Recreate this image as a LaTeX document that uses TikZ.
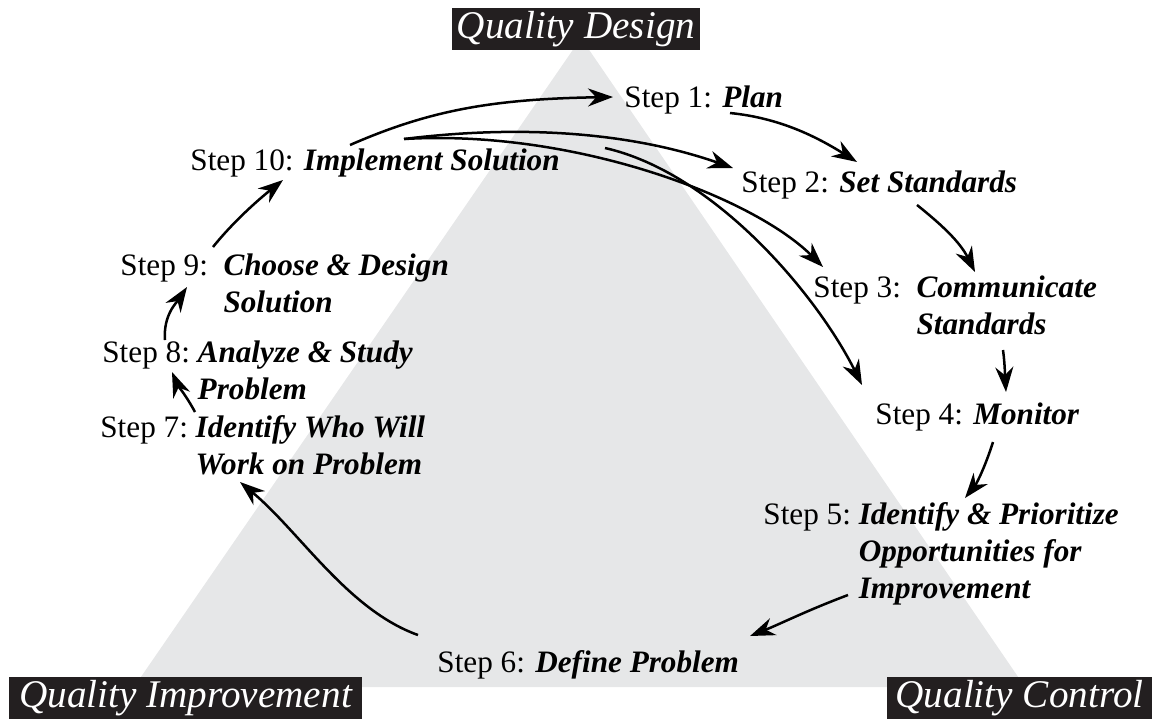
\documentclass[tikz,border=0pt]{standalone}
\usepackage{fontspec}
\setmainfont{Liberation Serif}
\usepackage{tikz}
\usetikzlibrary{arrows.meta}
\definecolor{pyramid}{RGB}{230,231,232}
\definecolor{labelbg}{RGB}{35,31,32}
\tikzstyle{stepnode} = [anchor=base west, inner sep=0pt, font=\fontsize{15.6}{18.5}\selectfont]
\tikzstyle{corner} = [fill=labelbg, text=white, inner sep=0pt, minimum height=21pt, font=\fontsize{19.6}{20}\selectfont\itshape]
\tikzstyle{arrow} = [line width=1.25pt,-{Stealth[length=12.5pt,width=9pt]}]
\newcommand{\stp}[1]{\textbf{\textit{#1}}}

\begin{document}
\begin{tikzpicture}
		[x=0.5pt, y=-0.5pt]
		\useasboundingbox (0,0) rectangle (1159,719);
		% grey pyramid behind the cycle
		\fill[pyramid] (581,38) -- (134,687) -- (1025,687) -- cycle;
		
		% corner labels
		\node[corner, minimum width=124pt] (design) at (576,29) {Quality Design};
		\node[corner, minimum width=176.5pt] (improve) at (185.5,698) {Quality Improvement};
		\node[corner, minimum width=132.5pt] (control) at (1019.5,698) {Quality Control};
		
		% the ten steps
		\node[stepnode] (s1) at (624,107) {Step 1: \stp{Plan}};
		\node[stepnode] (s2) at (741,192) {Step 2: \stp{Set Standards}};
		\node[stepnode] (s3) at (813,297) {\begin{tabular}[t]{@{}l@{\ \ }l@{}}Step 3: & \stp{Communicate}\\ & \stp{Standards}\end{tabular}};
		\node[stepnode] (s4) at (875,424) {Step 4: \stp{Monitor}};
		\node[stepnode] (s5) at (763,524) {\begin{tabular}[t]{@{}l@{\ }l@{}}Step 5: & \stp{Identify \& Prioritize}\\ & \stp{Opportunities for}\\ & \stp{Improvement}\end{tabular}};
		\node[stepnode] (s6) at (437,672) {Step 6: \stp{Define Problem}};
		\node[stepnode] (s7) at (100,437) {\begin{tabular}[t]{@{}l@{\ }l@{}}Step 7: & \stp{Identify Who Will}\\ & \stp{Work on Problem}\end{tabular}};
		\node[stepnode] (s8) at (102,362) {\begin{tabular}[t]{@{}l@{\ }l@{}}Step 8: & \stp{Analyze \& Study}\\ & \stp{Problem}\end{tabular}};
		\node[stepnode] (s9) at (120,275) {\begin{tabular}[t]{@{}l@{\ \ }l@{}}Step 9: & \stp{Choose \& Design}\\ & \stp{Solution}\end{tabular}};
		\node[stepnode] (s10) at (190,170) {Step 10: \stp{Implement Solution}};
		
		% step 10 feeds back into steps 1 to 4
		\draw[arrow] ([shift={(160,-25)}]s10.base west) .. controls +(80,-35) and +(-120,2) .. ([shift={(-11,-10)}]s1.base west);
		\draw[arrow] ([shift={(214,-31)}]s10.base west) .. controls +(120,-15) and +(-100,-35) .. ([shift={(-8,-24)}]s2.base west);
		\draw[arrow] ([shift={(214,-31)}]s10.base west) .. controls +(170,-10) and +(-70,-70) .. ([shift={(10,-30)}]s3.base west);
		\draw[arrow] ([shift={(415,-22)}]s10.base west) .. controls +(110,25) and +(-45,-90) .. ([shift={(-13,-39)}]s4.base west);
		
		% around the cycle
		\draw[arrow] ([shift={(106,6)}]s1.base west) .. controls +(50,5) and +(-40,-25) .. ([shift={(116,-30)}]s2.base west);
		\draw[arrow] ([shift={(176,13)}]s2.base west) .. controls +(25,20) and +(-15,-30) .. ([shift={(162,-25)}]s3.base west);
		\draw[arrow] ([shift={(190,53)}]s3.base west) .. controls +(2,15) and +(-1,-15) .. ([shift={(131,-32)}]s4.base west);
		\draw[arrow] ([shift={(118,18)}]s4.base west) .. controls +(-8,25) and +(12,-15) .. ([shift={(202,-26)}]s5.base west);
		\draw[arrow] ([shift={(85,71)}]s5.base west) .. controls +(-40,15) and +(30,-12) .. ([shift={(313,-36)}]s6.base west);
		\draw[arrow] ([shift={(-19,-37)}]s6.base west) .. controls +(-70,-25) and +(60,50) .. ([shift={(140,45)}]s7.base west);
		\draw[arrow] ([shift={(95,-25)}]s7.base west) .. controls +(-8,-15) and +(5,12) .. ([shift={(70,10)}]s8.base west);
		\draw[arrow] ([shift={(63,-22)}]s8.base west) .. controls +(-2,-25) and +(-10,15) .. ([shift={(67,12)}]s9.base west);
		\draw[arrow] ([shift={(93,-28)}]s9.base west) .. controls +(20,-25) and +(-25,20) .. ([shift={(93,10)}]s10.base west);
		\end{tikzpicture}
\end{document}
